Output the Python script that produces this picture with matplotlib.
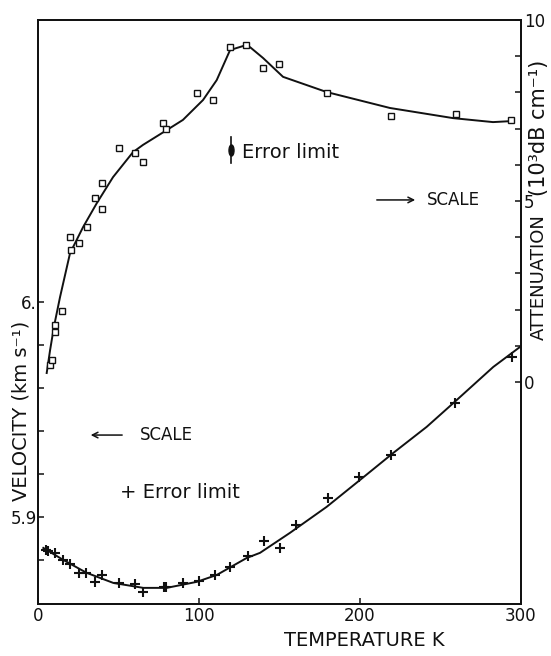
import matplotlib
matplotlib.use("Agg")
import matplotlib.pyplot as plt
from matplotlib.path import Path
from matplotlib.transforms import Affine2D

plt.rcParams['font.family'] = ['DejaVu Sans']

# ---- data ----
# attenuation points (open squares), right axis, 10^3 dB/cm
att_T = [7.5, 8.5, 10.5, 10.5, 15, 20, 20.5, 25.5, 30.5, 35.5, 40, 40, 50, 60, 65,
         77.5, 79.5, 99, 109, 119.5, 129, 139.5, 149.5, 179.5, 219.5, 259.5, 294]
att_A = [0.47, 0.6, 1.57, 1.38, 1.96, 4.0, 3.65, 3.84, 4.28, 5.08, 5.5, 4.78, 6.46,
         6.33, 6.08, 7.15, 6.99, 7.98, 7.79, 9.25, 9.31, 8.67, 8.78, 7.98, 7.35, 7.4, 7.24]
# attenuation smooth curve
attc_T = [5.4, 7.5, 10, 13.7, 19.9, 28, 36.5, 46.6, 59, 65.2, 80, 90, 102.5, 111,
          119.3, 127.3, 131.7, 139.8, 152.2, 179.3, 218.6, 257.8, 282.6, 295]
attc_A = [0.25, 0.88, 1.55, 2.35, 3.56, 4.28, 4.94, 5.66, 6.35, 6.55, 6.96, 7.24, 7.79,
          8.34, 9.17, 9.28, 9.25, 8.95, 8.43, 8.01, 7.57, 7.29, 7.18, 7.21]
# velocity points (crosses), left axis, km/s
vel_T = [5, 6.5, 10.5, 15.5, 20, 25.5, 30, 35.5, 39.5, 50, 60, 65.5, 78, 79.5, 90,
         100, 110, 119.5, 130.5, 140.5, 150.5, 160, 180, 199.5, 219.5, 259, 294.5]
vel_V = [5.8847, 5.8842, 5.8833, 5.8800, 5.8781, 5.8740, 5.8740, 5.8698, 5.8730,
         5.8693, 5.8688, 5.8651, 5.8674, 5.8674, 5.8693, 5.8702, 5.8730, 5.8767,
         5.8819, 5.8888, 5.8856, 5.8963, 5.9088, 5.9187, 5.9288, 5.9532, 5.9743]
# velocity smooth curve
velc_T = [3.3, 15.7, 30.2, 46.8, 65.4, 79.9, 98.6, 111, 129.6, 137.9, 156.5, 179.3,
          200, 220.7, 241.4, 258, 282.8, 299.4]
velc_V = [5.8856, 5.8800, 5.8740, 5.8693, 5.8670, 5.8670, 5.8698, 5.8730, 5.8809,
          5.8833, 5.8926, 5.9047, 5.9172, 5.9298, 5.9419, 5.9530, 5.9698, 5.9791]

x_ticks = [0, 100, 200, 300]
v_ticks = [5.88, 5.90, 5.92, 5.94, 5.96, 5.98, 6.00]
v_ticklabels = ['', '5.9', '', '', '', '', '6.']
a_ticks = list(range(0, 11))
a_ticklabels = ['0', '', '', '', '', '5', '', '', '', '', '10']

# ---- figure ----
W, H = 551, 656
fig = plt.figure(figsize=(W / 100, H / 100), dpi=100)
fig.patch.set_facecolor('white')
ax = fig.add_axes([38 / W, 52 / H, 483 / W, 584 / H])
ax2 = ax.twinx()

ax.set_xlim(0, 300)
ax.set_ylim(5.8595, 6.1312)
ax2.set_ylim(-6.13, 10.0)

ink = '#111111'
for a in (ax, ax2):
    for s in a.spines.values():
        s.set_linewidth(1.3)
        s.set_color(ink)

ax.set_xticks(x_ticks)
ax.set_xticklabels([str(t) for t in x_ticks])
ax.set_yticks(v_ticks)
ax.set_yticklabels(v_ticklabels)
ax2.set_yticks(a_ticks)
ax2.set_yticklabels(a_ticklabels)
ax.tick_params(axis='both', direction='in', length=4, width=1.1, labelsize=12,
               colors=ink, pad=2)
ax.tick_params(axis='y', pad=1)
ax2.tick_params(axis='y', direction='in', length=4, width=1.1, labelsize=12,
                colors=ink, pad=2)

# curves and points
ax2.plot(attc_T, attc_A, '-', color=ink, lw=1.4, zorder=2)
ax2.plot(att_T, att_A, 's', ms=5, mfc='white', mec=ink, mew=1.0, zorder=3)
ax.plot(velc_T, velc_V, '-', color=ink, lw=1.4, zorder=2)
ax.plot(vel_T, vel_V, '+', ms=7, mec=ink, mew=1.5, zorder=3)

# error limit (upper)
ax2.plot([120, 120], [6.05, 6.77], '-', color=ink, lw=1.2)
ell = Path.unit_circle().transformed(Affine2D().scale(0.45, 1.0))
ax2.plot([120], [6.41], marker=ell, ms=8, color=ink, mec=ink)
ax2.text(126.7, 6.35, 'Error limit', fontsize=14, color=ink, va='center', ha='left')

# scale arrows
ax2.annotate('', xy=(236, 5.03), xytext=(208.7, 5.03),
             arrowprops=dict(arrowstyle='->', color=ink, lw=1.1))
ax2.text(241.6, 5.03, 'SCALE', fontsize=12, color=ink, va='center', ha='left')
ax.annotate('', xy=(31, 5.9381), xytext=(54, 5.9381),
            arrowprops=dict(arrowstyle='->', color=ink, lw=1.1))
ax.text(63.4, 5.9381, 'SCALE', fontsize=12, color=ink, va='center', ha='left')

# error limit (lower)
ax.text(51, 5.9112, '+ Error limit', fontsize=14, color=ink, va='center', ha='left')

# axis labels
fig.text(364 / W, 1 - 641 / H, 'TEMPERATURE K', fontsize=14, color=ink,
         ha='center', va='center')
fig.text(21 / W, 1 - 411 / H, 'VELOCITY (km s⁻¹)', fontsize=14, color=ink,
         rotation=90, ha='center', va='center')
fig.text(539 / W, 1 - 214 / H, 'ATTENUATION', fontsize=13, color=ink,
         rotation=90, ha='center', va='top')
fig.text(539 / W, 1 - 196 / H, '(10³dB cm⁻¹)', fontsize=15, color=ink,
         rotation=90, ha='center', va='bottom')

fig.savefig('out.png', dpi=100, facecolor='white')
